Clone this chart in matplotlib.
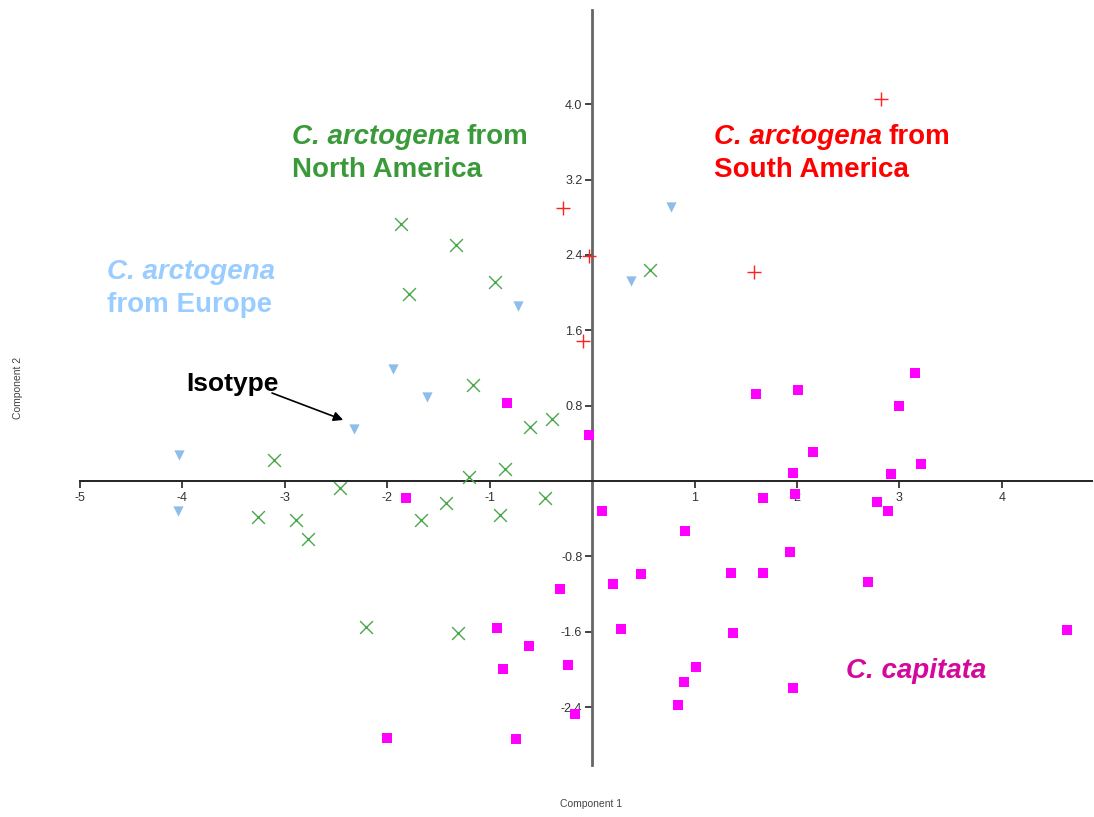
import matplotlib
matplotlib.use("Agg")
import matplotlib.pyplot as plt

plt.rcParams['font.family'] = ['Liberation Sans', 'DejaVu Sans']

# PCA scores
south_x = [2.82, -0.28, -0.03, 1.58, -0.09]
south_y = [4.06, 2.90, 2.39, 2.22, 1.49]

europe_x = [0.77, 0.38, -0.72, -1.94, -1.61, -2.32, -4.03, -4.04]
europe_y = [2.91, 2.12, 1.86, 1.19, 0.89, 0.55, 0.28, -0.32]

north_x = [-1.87, -1.33, -0.95, -1.79, 0.57, -1.16, -0.61, -0.39, -3.11, -0.85,
           -1.20, -2.46, -0.46, -1.43, -1.67, -3.26, -2.89, -0.90, -2.77, -2.21, -1.31]
north_y = [2.73, 2.51, 2.11, 1.99, 2.24, 1.02, 0.57, 0.66, 0.22, 0.13,
           0.04, -0.07, -0.18, -0.23, -0.41, -0.38, -0.41, -0.36, -0.62, -1.55, -1.61]

capitata_x = [-0.83, -0.03, -1.82, 0.10, 1.60, 2.01, 3.15, 3.00, 2.16, 1.96,
              3.21, 2.92, 1.67, 1.98, 2.78, 2.89, 0.91, 0.20, 0.48, 1.36,
              1.67, 1.93, 2.69, 0.28, 1.38, 4.64, 1.01, 0.90, 0.84, 1.96,
              -0.31, -0.93, -0.62, -0.87, -0.24, -0.17, -2.00, -0.74]
capitata_y = [0.83, 0.49, -0.18, -0.32, 0.92, 0.97, 1.15, 0.80, 0.31, 0.08,
              0.18, 0.07, -0.18, -0.14, -0.22, -0.32, -0.53, -1.09, -0.99, -0.98,
              -0.98, -0.75, -1.07, -1.57, -1.61, -1.58, -1.97, -2.13, -2.38, -2.20,
              -1.15, -1.56, -1.75, -2.00, -1.95, -2.47, -2.73, -2.74]

xticks = [-5, -4, -3, -2, -1, 1, 2, 3, 4]
yticks = [-2.4, -1.6, -0.8, 0.8, 1.6, 2.4, 3.2, 4.0]

fig = plt.figure(figsize=(10.94, 8.17), dpi=100)
ax = fig.add_axes([0.0731, 0.0636, 0.925, 0.9242])

ax.scatter(capitata_x, capitata_y, marker='s', s=62, color='#ff00ff', linewidths=0, zorder=3)
ax.scatter(north_x, north_y, marker='x', s=85, color='#4aa84a', linewidths=1.0, zorder=3)
ax.scatter(europe_x, europe_y, marker='v', s=55, color='#8fbde9', linewidths=0, zorder=3)
ax.scatter(south_x, south_y, marker='+', s=90, color='#ff2020', linewidths=1.0, zorder=4)

ax.set_xlim(-5, 4.88)
ax.set_ylim(-3.015, 5.0)

for side in ['top', 'right']:
    ax.spines[side].set_visible(False)
ax.spines['left'].set_position(('data', 0))
ax.spines['bottom'].set_position(('data', 0))
ax.spines['left'].set_color('#666666')
ax.spines['left'].set_linewidth(2)
ax.spines['bottom'].set_color('#222222')
ax.spines['bottom'].set_linewidth(1.4)

ax.set_xticks(xticks)
ax.set_xticklabels([str(t) for t in xticks])
ax.set_yticks(yticks)
ax.set_yticklabels(['%.1f' % t for t in yticks])
ax.tick_params(axis='x', direction='out', length=5, width=1.2, colors='#222222',
               labelcolor='#333333', labelsize=9, pad=3)
ax.tick_params(axis='y', direction='out', length=5, width=1.2, colors='#222222',
               labelcolor='#333333', labelsize=9, pad=2)

fig.text(0.54, 0.012, 'Component 1', fontsize=7.5, color='#444444', ha='center')
fig.text(0.012, 0.525, 'Component 2', fontsize=7.5, color='#444444', rotation=90, va='center')

# group labels: italic species name followed by upright words
FS = 20
def label(x, y, first, rest, second, color):
    t1 = ax.text(x, y, first, fontsize=FS, fontweight='bold', style='italic',
                 color=color, va='top', ha='left')
    if rest:
        ax.annotate(rest, xy=(1, 0), xycoords=t1, xytext=(5, 0), textcoords='offset points',
                    fontsize=FS, fontweight='bold', color=color, va='bottom', ha='left')
    if second:
        ax.annotate(second, xy=(0, 0), xycoords=t1, xytext=(0, -5), textcoords='offset points',
                    fontsize=FS, fontweight='bold', color=color, va='top', ha='left')

label(-2.93, 3.79, 'C. arctogena', 'from', 'North America', '#3a9a3a')
label(1.19, 3.79, 'C. arctogena', 'from', 'South America', '#ff0000')
label(-4.74, 2.355, 'C. arctogena', '', 'from Europe', '#99ccff')
ax.text(2.48, -2.02, 'C. capitata', fontsize=FS, fontweight='bold', style='italic',
        color='#d4089c', va='center', ha='left')

ax.text(-3.96, 1.03, 'Isotype', fontsize=19, fontweight='bold', color='black',
        ha='left', va='center')
ax.annotate('', xy=(-2.43, 0.648), xytext=(-3.125, 0.934),
            arrowprops=dict(arrowstyle='-|>', color='black', lw=1.2,
                            shrinkA=0, shrinkB=0, mutation_scale=14))

fig.savefig('out.png', dpi=100)
